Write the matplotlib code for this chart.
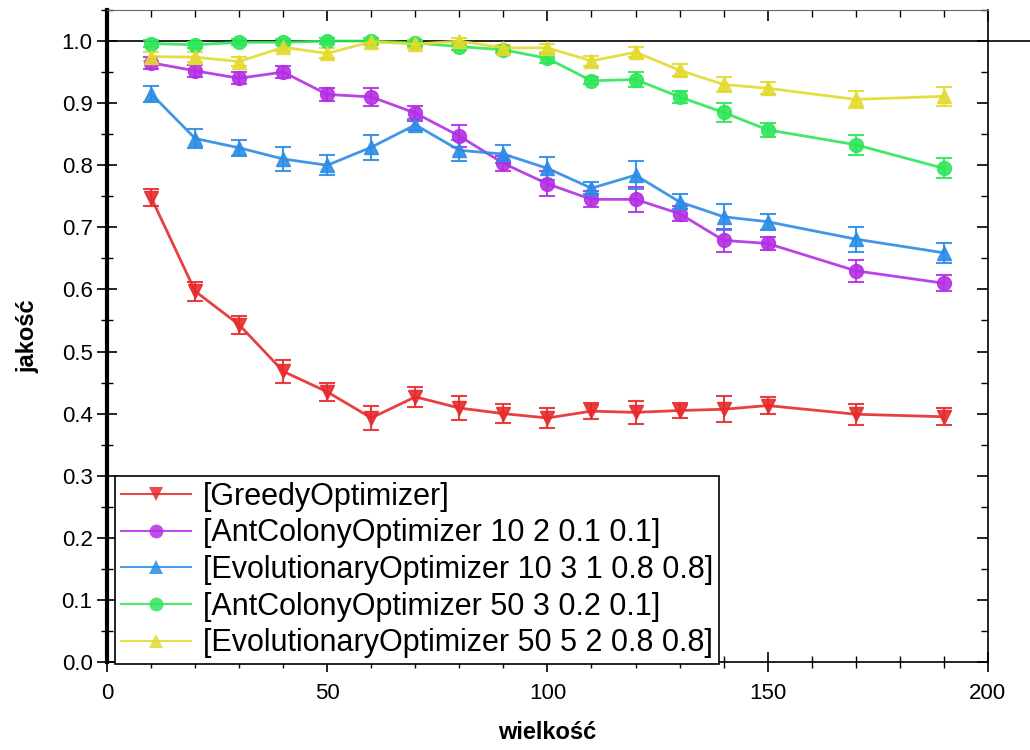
import matplotlib
matplotlib.use("Agg")
import matplotlib.pyplot as plt
from matplotlib.ticker import MultipleLocator, FormatStrFormatter
from matplotlib.lines import Line2D

plt.rcParams['font.family'] = ['Liberation Sans', 'DejaVu Sans']

# sizes (x axis)
x = [10, 20, 30, 40, 50, 60, 70, 80, 90, 100, 110, 120, 130, 140, 150, 170, 190]

greedy = [0.748, 0.597, 0.543, 0.468, 0.435, 0.393, 0.427, 0.409, 0.400, 0.393, 0.404, 0.402, 0.405, 0.407, 0.413, 0.399, 0.395]
greedy_err = [0.014, 0.015, 0.014, 0.018, 0.015, 0.020, 0.016, 0.019, 0.015, 0.016, 0.013, 0.019, 0.012, 0.021, 0.014, 0.017, 0.014]

ant_small = [0.965, 0.952, 0.940, 0.950, 0.914, 0.910, 0.884, 0.847, 0.803, 0.770, 0.745, 0.745, 0.722, 0.679, 0.674, 0.630, 0.610]
ant_small_err = [0.010, 0.010, 0.010, 0.010, 0.010, 0.015, 0.012, 0.017, 0.012, 0.020, 0.013, 0.020, 0.012, 0.018, 0.010, 0.018, 0.013]

evo_small = [0.915, 0.843, 0.828, 0.810, 0.800, 0.829, 0.865, 0.824, 0.818, 0.795, 0.763, 0.784, 0.741, 0.717, 0.709, 0.681, 0.659]
evo_small_err = [0.013, 0.015, 0.013, 0.019, 0.016, 0.020, 0.009, 0.017, 0.015, 0.018, 0.010, 0.022, 0.012, 0.021, 0.013, 0.020, 0.016]

ant_big = [0.996, 0.994, 0.998, 0.998, 1.000, 1.000, 0.997, 0.991, 0.986, 0.972, 0.936, 0.938, 0.910, 0.885, 0.857, 0.833, 0.795]
ant_big_err = [0.005, 0.005, 0.005, 0.005, 0.005, 0.005, 0.005, 0.006, 0.005, 0.007, 0.006, 0.012, 0.009, 0.015, 0.011, 0.016, 0.016]

evo_big = [0.975, 0.974, 0.967, 0.990, 0.980, 0.999, 0.995, 1.000, 0.989, 0.989, 0.968, 0.982, 0.953, 0.930, 0.924, 0.906, 0.911]
evo_big_err = [0.007, 0.008, 0.008, 0.006, 0.008, 0.005, 0.006, 0.005, 0.005, 0.006, 0.008, 0.008, 0.010, 0.012, 0.010, 0.014, 0.015]

labels = ['[GreedyOptimizer]',
          '[AntColonyOptimizer 10 2 0.1 0.1]',
          '[EvolutionaryOptimizer 10 3 1 0.8 0.8]',
          '[AntColonyOptimizer 50 3 0.2 0.1]',
          '[EvolutionaryOptimizer 50 5 2 0.8 0.8]']

series = [greedy, ant_small, evo_small, ant_big, evo_big]
errors = [greedy_err, ant_small_err, evo_small_err, ant_big_err, evo_big_err]
colors = ['#e62a2c', '#b42ee4', '#2b8ce6', '#2ee65a', '#e4da2e']
markers = ['v', 'o', '^', 'o', '^']

fig = plt.figure(figsize=(10.3, 7.5), dpi=100)
ax = fig.add_axes([0.104, 0.1173, 0.855, 0.8694])

handles = []
for y, e, c, m, lab in zip(series, errors, colors, markers, labels):
    ax.errorbar(x, y, yerr=e, color=c, marker=m, markersize=10, linewidth=2,
                elinewidth=1.5, capsize=6, capthick=1.5, alpha=0.9)
    handles.append(Line2D([], [], color=c, marker=m, markersize=10, linewidth=1.5,
                          markeredgewidth=0, alpha=0.85, label=lab))

# reference line at 1.0, running past the right edge
ax.plot([0, 210], [1.0, 1.0], color='black', linewidth=1.2, clip_on=False, zorder=1)

ax.set_xlim(0, 200)
ax.set_ylim(0, 1.05)
ax.xaxis.set_major_locator(MultipleLocator(50))
ax.xaxis.set_minor_locator(MultipleLocator(10))
ax.yaxis.set_major_locator(MultipleLocator(0.1))
ax.yaxis.set_minor_locator(MultipleLocator(0.05))
ax.yaxis.set_major_formatter(FormatStrFormatter('%.1f'))

ax.tick_params(which='major', direction='inout', length=14, width=1.2, labelsize=16)
ax.tick_params(which='minor', direction='inout', length=8, width=1.0)
ax.tick_params(axis='x', pad=8)

ax.spines['left'].set_linewidth(3)
ax.spines['bottom'].set_linewidth(1.2)
ax.spines['top'].set_color('#666666')
ax.spines['right'].set_linewidth(1.2)

# inward ticks on top and right
top = ax.secondary_xaxis('top')
top.xaxis.set_major_locator(MultipleLocator(50))
top.xaxis.set_minor_locator(MultipleLocator(10))
top.tick_params(which='major', direction='in', length=8, width=1.2, labeltop=False)
top.tick_params(which='minor', direction='in', length=5, width=1.0)
top.spines['top'].set_visible(False)
right = ax.secondary_yaxis('right')
right.yaxis.set_major_locator(MultipleLocator(0.1))
right.yaxis.set_minor_locator(MultipleLocator(0.05))
right.tick_params(which='major', direction='in', length=8, width=1.2, labelright=False)
right.tick_params(which='minor', direction='in', length=5, width=1.0)
right.spines['right'].set_visible(False)

ax.set_xlabel('wielkość', fontsize=17, fontweight='bold', labelpad=12)
ax.set_ylabel('jakość', fontsize=17, fontweight='bold', labelpad=16)

leg = ax.legend(handles=handles, loc='lower left', bbox_to_anchor=(0.009, -0.003),
                borderaxespad=0, fontsize=22, frameon=True, fancybox=False,
                framealpha=1, edgecolor='black', handlelength=2.3,
                handletextpad=0.4, labelspacing=0.22, borderpad=0.18)
leg.get_frame().set_linewidth(1.2)

plt.savefig('out.png', dpi=100)
